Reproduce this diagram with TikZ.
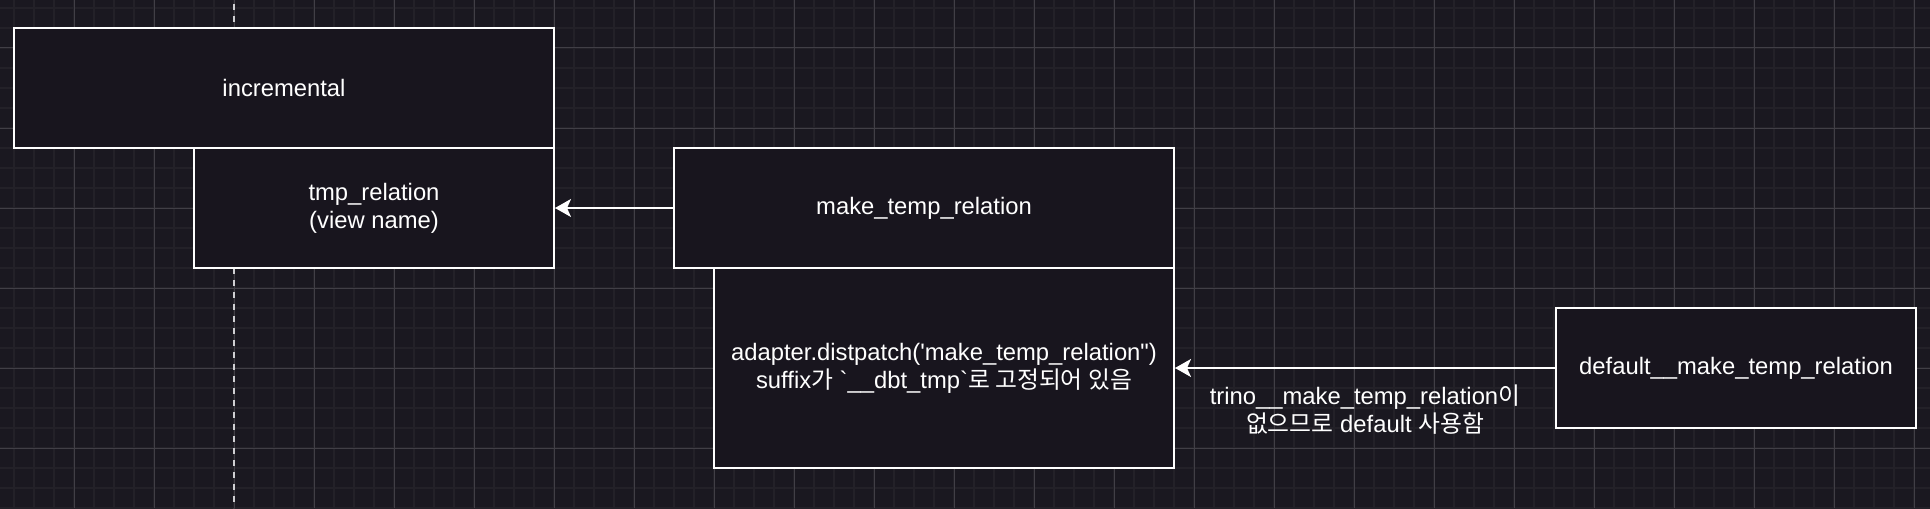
\documentclass[tikz,border=0pt]{standalone}
\usepackage{fontspec}
\setmainfont{Liberation Sans}
\newfontfamily\kr{Noto Sans CJK KR}
\usetikzlibrary{arrows.meta}
\definecolor{bg}{HTML}{1A1820}
\definecolor{boxfill}{HTML}{18151E}
\definecolor{gridmin}{HTML}{232128}
\definecolor{gridmaj}{HTML}{413F46}
\definecolor{lifeline}{HTML}{CFCFD2}
\tikzset{
  macro/.style = {rectangle, draw=white, line width=1pt, fill=boxfill, inner sep=0, text=white, align=center, font=\fontsize{11.9}{14}\selectfont},
  link/.style  = {draw=white, line width=1pt, -{Stealth[length=8pt, width=9pt, inset=2pt]}},
  et/.style    = {text=white, align=center, inner sep=0, font=\fontsize{11.9}{14}\selectfont},
  vline/.style = {draw=lifeline, line width=1pt, dash pattern=on 3pt off 3pt},
  gmin/.style  = {draw=gridmin, line width=0.8pt}, gmaj/.style = {draw=gridmaj, line width=0.5pt}
}
\begin{document}
\begin{tikzpicture}[x=0.5pt, y=-0.5pt]
  \fill[bg] (0,0) rectangle (1930,508); \useasboundingbox (0,0) rectangle (1930,508);
  % grid
  \foreach \x in {14,34,...,1914} \draw[gmin] (\x,0) -- (\x,508);
  \foreach \y in {8,28,...,508} \draw[gmin] (0,\y) -- (1930,\y);
  \foreach \x in {74,154,...,1914} \draw[gmaj] (\x,0) -- (\x,508);
  \foreach \y in {48,128,...,448} \draw[gmaj] (0,\y) -- (1930,\y);
  % lifeline
  \coordinate (lt) at (234,4); \coordinate (lb) at (234,508); \draw[vline] (lt) -- (lb);
  \node[macro, minimum width=270pt, minimum height=60pt] (inc) at (284,88) {incremental};
  \node[macro, minimum width=180pt, minimum height=60pt] (tmp) at (374,208) {tmp\_relation\\(view name)};
  \node[macro, minimum width=250pt, minimum height=60pt] (mk) at (924,208) {make\_temp\_relation};
  \node[macro, minimum width=230pt, minimum height=100pt] (disp) at (944,368)
    {adapter.distpatch(\textquotesingle make\_temp\_relation\textquotedbl)\\suffix{\kr 가} \textasciigrave\_\_dbt\_tmp\textasciigrave{\kr 로 고정되어 있음}};
  \node[macro, minimum width=180pt, minimum height=60pt] (dflt) at (1736,368) {default\_\_make\_temp\_relation};
  \draw[link] (mk) -- (tmp);
  \draw[link] (dflt) -- (disp) node[et, midway, below=8pt] {trino\_\_make\_temp\_relation{\kr 이}\\{\kr 없으므로} default {\kr 사용함}};
\end{tikzpicture}
\end{document}
